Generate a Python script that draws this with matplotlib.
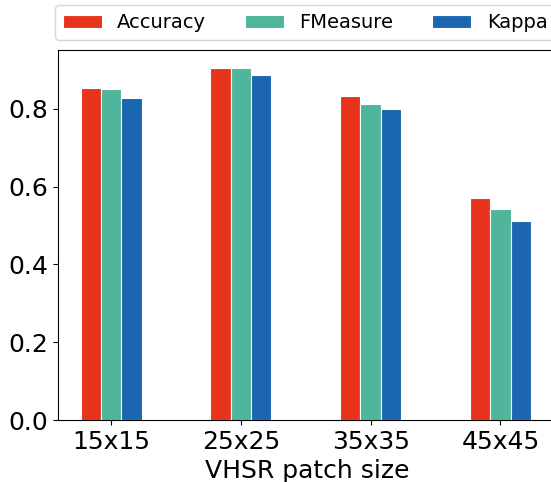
import numpy as np
import matplotlib.pyplot as plt

sizes = ['15x15', '25x25', '35x35', '45x45']
accuracy = [0.853, 0.906, 0.833, 0.571]
fmeasure = [0.851, 0.906, 0.812, 0.542]
kappa = [0.828, 0.887, 0.800, 0.512]

x = np.arange(len(sizes))
w = 0.157

fig = plt.figure(figsize=(5.51, 4.82), dpi=100)
# the right edge of the axes is cut off in the original picture
ax = fig.add_axes([58 / 551, 62 / 482, 498 / 551, 370 / 482])
ax.bar(x - w, accuracy, w, color='#e8341c', edgecolor='white', linewidth=0.8, label='Accuracy')
ax.bar(x, fmeasure, w, color='#4fb59b', edgecolor='white', linewidth=0.8, label='FMeasure')
ax.bar(x + w, kappa, w, color='#1b66b1', edgecolor='white', linewidth=0.8, label='Kappa')
ax.spines['right'].set_visible(False)

ax.set_xticks(x)
ax.set_xticklabels(sizes)
ax.set_xlim(-0.409, 3.428)
ax.set_ylim(0, 0.951)
ax.set_yticks([0.0, 0.2, 0.4, 0.6, 0.8])
ax.tick_params(labelsize=18)
ax.set_xlabel('VHSR patch size', fontsize=18)
ax.legend(ncol=3, fontsize=14, loc='lower left', bbox_to_anchor=(55 / 551, 442 / 482),
          bbox_transform=fig.transFigure, borderaxespad=0, handlelength=2.0)

fig.savefig('out.png', dpi=100)
